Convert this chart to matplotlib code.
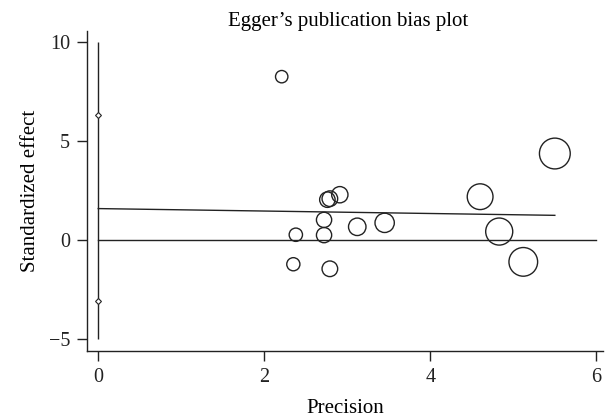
import numpy as np
import matplotlib.pyplot as plt

# Egger's test: precision vs standardized effect
precision = [2.21, 2.38, 2.35, 2.72, 2.72, 2.79, 2.76, 2.79, 2.91, 3.12, 3.45, 4.60, 4.83, 5.12, 5.50]
std_effect = [8.25, 0.27, -1.22, 1.02, 0.25, -1.45, 2.04, 2.09, 2.29, 0.67, 0.87, 2.19, 0.43, -1.10, 4.37]

reg_intercept = 1.59
reg_slope = -0.062
ci_marks = [6.3, -3.1]
axis_span = [-5, 10]

plt.rcParams['font.family'] = ['Liberation Serif', 'DejaVu Serif']

fig = plt.figure(figsize=(6.1, 4.19), dpi=100)
ax = fig.add_axes([0.142, 0.1623, 0.8465, 0.7644])

x = np.array(precision)
y = np.array(std_effect)

# marker radius grows with precision (weights)
r_px = 2.8 * x
s = (2 * r_px * 0.72) ** 2
ax.scatter(x, y, s=s, facecolors='none', edgecolors='#222222', linewidths=1.0, zorder=3)

xr = np.array([0, x.max()])
ax.plot(xr, reg_intercept + reg_slope * xr, color='#222222', lw=1.0)
ax.plot([0, 6], [0, 0], color='#222222', lw=1.0)

ax.vlines(0, axis_span[0], axis_span[1], color='#222222', lw=1.0)
ax.plot([0, 0], ci_marks, linestyle='none', marker='D', markersize=3,
        markerfacecolor='white', markeredgecolor='#222222', markeredgewidth=0.8)

ax.set_xlim(-0.14, 6.08)
ax.set_ylim(-5.6, 10.57)
ax.set_xticks([0, 2, 4, 6])
ax.set_yticks([-5, 0, 5, 10])
ax.set_yticklabels(['\u22125', '0', '5', '10'])

for sp in ['top', 'right']:
    ax.spines[sp].set_visible(False)
for sp in ['left', 'bottom']:
    ax.spines[sp].set_linewidth(1.0)
    ax.spines[sp].set_color('#222222')
ax.tick_params(direction='out', length=7, width=1.0, colors='#222222', labelsize=14.5, pad=5)

ax.set_xlabel('Precision', fontsize=15, labelpad=9)
ax.set_ylabel('Standardized effect', fontsize=15, labelpad=6)
ax.set_title('Egger\u2019s publication bias plot', fontsize=15, pad=-3, x=0.507)

fig.savefig('out.png', dpi=100)
